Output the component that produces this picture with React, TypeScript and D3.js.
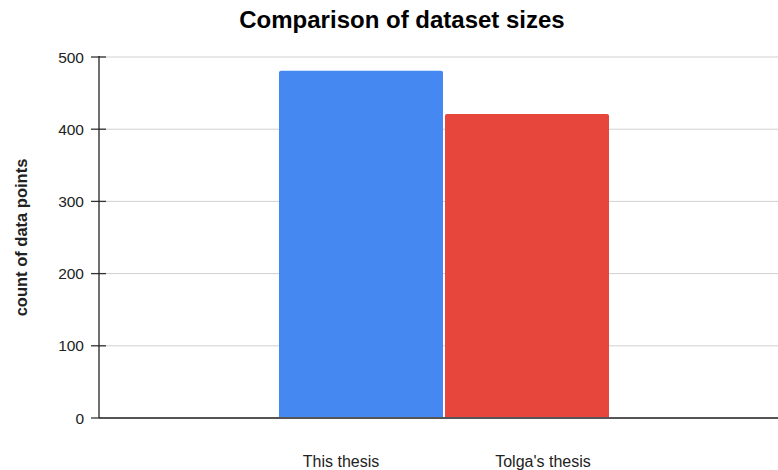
import React from 'react';
import * as d3 from 'd3';

const categories = ['This thesis', "Tolga's thesis"];
const values = [481, 421];
const colors = ['#4688f1', '#e6463c'];
const yTicks = [0, 100, 200, 300, 400, 500];

const width = 778;
const height = 470;
const margin = { top: 57, right: 0, bottom: 52, left: 99 };

const App = () => {
    const y = d3
        .scaleLinear()
        .domain([0, 500])
        .range([height - margin.bottom, margin.top]);

    // bars sit side by side inside the plot area
    const x = d3
        .scaleBand()
        .domain(categories)
        .range([279, 609])
        .paddingInner(0.012);

    // the category labels are not centred under the bars in the original
    const xLabel = d3.scalePoint().domain(categories).range([341, 543]);

    const font = '"Liberation Sans", Arial, sans-serif';

    return (
        <svg
            width={width}
            height={height}
            style={{ position: 'absolute', left: 0, top: 0, background: '#fff' }}
            fontFamily={font}
        >
            <text x={402} y={28} textAnchor="middle" fontSize={24} fontWeight="bold" fill="#000">
                Comparison of dataset sizes
            </text>

            {yTicks.map(t => (
                <g key={t}>
                    {t > 0 && (
                        <line x1={margin.left} x2={width} y1={y(t)} y2={y(t)} stroke="#d0d0d0" strokeWidth={1} />
                    )}
                    <line x1={91} x2={106} y1={y(t)} y2={y(t)} stroke="#333" strokeWidth={1.3} />
                    <text x={84} y={y(t)} dy="0.36em" textAnchor="end" fontSize={15.5} fill="#222">
                        {t}
                    </text>
                </g>
            ))}

            {categories.map((c, i) => {
                const x0 = x(c)!;
                const w = x.bandwidth();
                const y0 = y(values[i]);
                const h = y(0) - y0;
                const r = 2;
                const d = `M${x0},${y0 + h}V${y0 + r}Q${x0},${y0} ${x0 + r},${y0}H${x0 + w - r}Q${x0 + w},${y0} ${x0 + w},${y0 + r}V${y0 + h}Z`;
                return <path key={c} d={d} fill={colors[i]} />;
            })}

            <line x1={margin.left} x2={width} y1={y(0)} y2={y(0)} stroke="#555" strokeWidth={2} />
            <line x1={margin.left} x2={margin.left} y1={y(500) - 1} y2={y(0)} stroke="#222" strokeWidth={1.3} />

            {categories.map(c => (
                <text key={c} x={xLabel(c)} y={467} textAnchor="middle" fontSize={16} fill="#222">
                    {c}
                </text>
            ))}

            <text
                transform={`translate(27,${(y(0) + y(500)) / 2}) rotate(-90)`}
                textAnchor="middle"
                fontSize={16.5}
                fontWeight="bold"
                fill="#222"
            >
                count of data points
            </text>
        </svg>
    );
};

export default App;
